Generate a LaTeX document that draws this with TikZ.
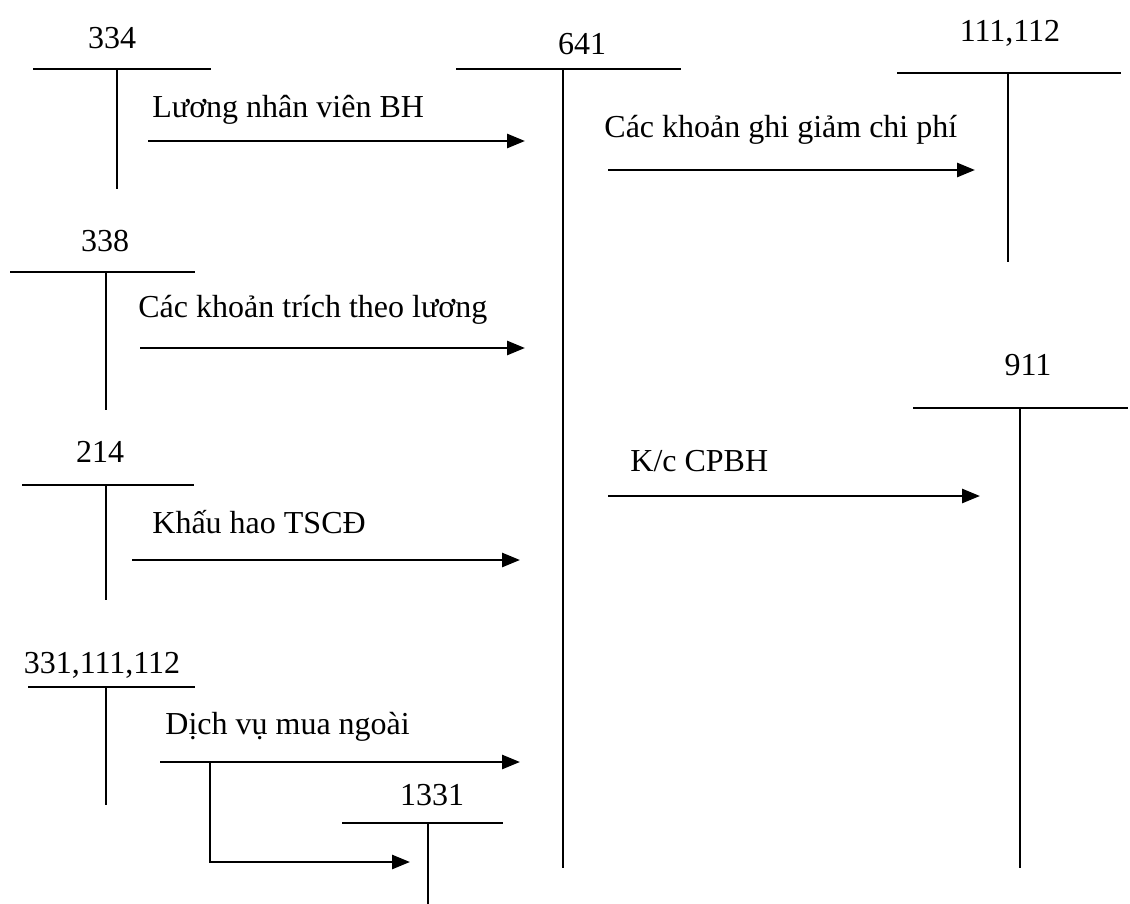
\documentclass[tikz,border=0pt]{standalone}
\usepackage{fontspec}
\setmainfont{Liberation Serif}
\usetikzlibrary{arrows.meta}
\tikzset{
  acct/.style ={inner sep=0pt, font=\fontsize{16}{19}\selectfont},
  note/.style ={acct, anchor=west},
  tline/.style={line width=1pt},
  arr/.style  ={-{Triangle[length=9pt,width=7pt]}, line width=1.35pt},
}

\begin{document}
\begin{tikzpicture}[x=0.5pt, y=-0.5pt]
  \useasboundingbox (0,0) rectangle (1130,904);

  % T accounts, left column
  \node[acct] (a334) at (112,38) {334};
  \draw[tline] (33,69) -- (211,69) (117,69) -- (117,189);

  \node[acct] (a338) at (105,241) {338};
  \draw[tline] (10,272) -- (195,272) (106,272) -- (106,410);

  \node[acct] (a214) at (100,452) {214};
  \draw[tline] (22,485) -- (194,485) (106,485) -- (106,600);

  \node[acct] (a331) at (102,665) {331,111,112};
  \draw[tline] (28,687) -- (195,687) (106,687) -- (106,805);

  \node[acct] (a1331) at (432,795) {1331};
  \draw[tline] (342,823) -- (503,823) (428,823) -- (428,904);

  % T accounts, middle and right
  \node[acct] (a641) at (582,44) {641};
  \draw[tline] (456,69) -- (681,69) (563,69) -- (563,868);

  \node[acct] (a111) at (1010,33) {111,112};
  \draw[tline] (897,73) -- (1121,73) (1008,73) -- (1008,262);

  \node[acct] (a911) at (1028,365) {911};
  \draw[tline] (913,408) -- (1128,408) (1020,408) -- (1020,868);

  % entries into 641
  \node[note] (l1) at (152,110) {Lương nhân viên BH};
  \coordinate (p1) at (148,141);
  \coordinate (q1) at (525,141);
  \draw[arr] (p1) -- (q1);

  \node[note] (l3) at (138,310) {Các khoản trích theo lương};
  \coordinate (p3) at (140,348);
  \coordinate (q3) at (525,348);
  \draw[arr] (p3) -- (q3);

  \node[note] (l5) at (152,522) {Khấu hao TSCĐ};
  \coordinate (p5) at (132,560);
  \coordinate (q5) at (520,560);
  \draw[arr] (p5) -- (q5);

  \node[note] (l6) at (165,727) {Dịch vụ mua ngoài};
  \coordinate (p6) at (160,762);
  \coordinate (q6) at (520,762);
  \draw[arr] (p6) -- (q6);
  \coordinate (b6) at (210,762);
  \coordinate (q7) at (410,862);
  \draw[arr] (b6) |- (q7);

  % entries out of 641
  \node[note] (l2) at (604,130) {Các khoản ghi giảm chi phí};
  \coordinate (p2) at (608,170);
  \coordinate (q2) at (975,170);
  \draw[arr] (p2) -- (q2);

  \node[note] (l4) at (630,461) {K/c CPBH};
  \coordinate (p4) at (608,496);
  \coordinate (q4) at (980,496);
  \draw[arr] (p4) -- (q4);
\end{tikzpicture}
\end{document}
